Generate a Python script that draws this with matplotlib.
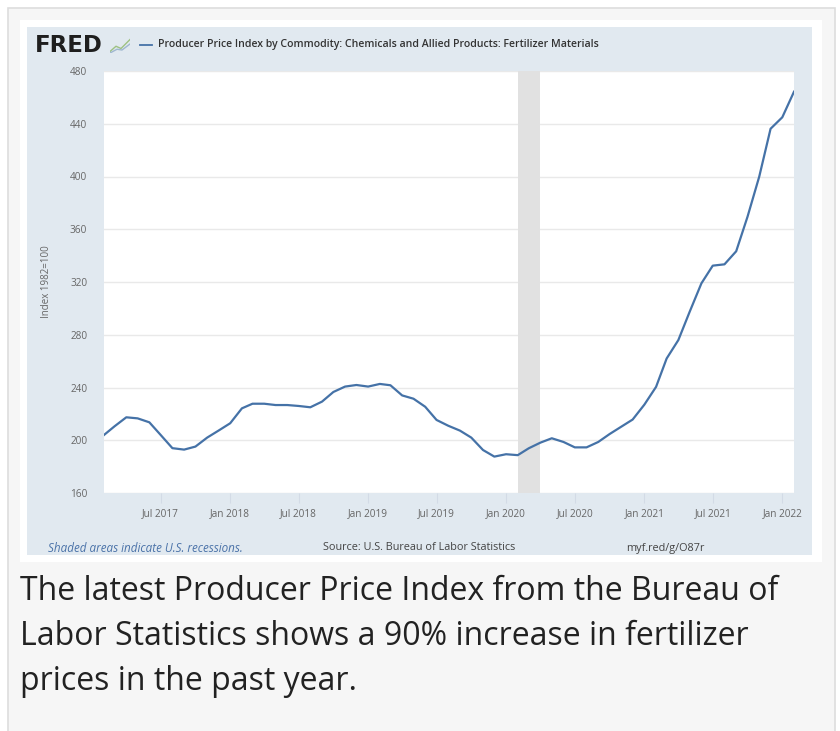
import datetime as dt
import matplotlib
matplotlib.use("Agg")
import matplotlib.pyplot as plt
import matplotlib.dates as mdates
from matplotlib.patches import Rectangle
from matplotlib.lines import Line2D

# monthly PPI, fertilizer materials (index 1982=100), Feb 2017 .. Feb 2022
start_year, start_month = 2017, 2
ppi = [
    204.0, 210.6, 217.4, 216.6, 213.6, 204.0, 194.0, 192.9, 195.2, 202.0, 207.3,
    212.9, 224.2, 227.7, 227.7, 226.7, 226.7, 226.0, 225.0, 229.3, 236.6, 240.7, 241.9,
    240.7, 242.7, 241.7, 234.0, 231.5, 225.4, 215.4, 211.0, 207.3, 202.0, 192.6, 187.6,
    189.4, 188.7, 193.9, 198.2, 201.5, 198.7, 194.6, 194.6, 198.7, 204.7, 210.3, 215.7,
    227.0, 240.5, 262.0, 276.0, 297.5, 319.0, 332.4, 333.4, 343.3, 369.5, 399.9, 436.2,
    444.9, 464.3,
]
recession = ("2020-02-01", "2020-04-01")
y_ticks = [160, 200, 240, 280, 320, 360, 400, 440, 480]
x_ticks = ["2017-07", "2018-01", "2018-07", "2019-01", "2019-07", "2020-01",
           "2020-07", "2021-01", "2021-07", "2022-01"]

title = "Producer Price Index by Commodity: Chemicals and Allied Products: Fertilizer Materials"
caption = ["The latest Producer Price Index from the Bureau of",
           "Labor Statistics shows a 90% increase in fertilizer",
           "prices in the past year."]

W, H = 840, 731
LINE = "#4572a7"
PANEL = "#e1e9f0"
FONT = ["Open Sans", "DejaVu Sans"]


def month_dates(n):
    out = []
    y, m = start_year, start_month
    for _ in range(n):
        out.append(dt.datetime(y, m, 1))
        m += 1
        if m > 12:
            y, m = y + 1, 1
    return out


def box(x0, y0, x1, y1, z, **kw):
    # pixel coords measured from top-left
    return Rectangle((x0 / W, 1 - y1 / H), (x1 - x0) / W, (y1 - y0) / H,
                     transform=fig.transFigure, zorder=z, **kw)


def txt(x, y, s, **kw):
    kw.setdefault("family", FONT)
    fig.text(x / W, 1 - y / H, s, **kw)


fig = plt.figure(figsize=(W / 100, H / 100), dpi=100, facecolor="white")
fig.patches.append(box(7.5, 7.5, 835, 740, -3, facecolor="#f6f6f6", edgecolor="#dddddd", lw=1.2))
fig.patches.append(box(20, 20, 822, 562, -2, facecolor="white", edgecolor="none"))
fig.patches.append(box(27, 27, 812, 555, -1, facecolor=PANEL, edgecolor="none"))

ax = fig.add_axes([104 / W, 1 - 493 / H, (794 - 104) / W, (493 - 71) / H])
ax.set_facecolor("white")

dates = month_dates(len(ppi))
ax.axvspan(dt.datetime.fromisoformat(recession[0]), dt.datetime.fromisoformat(recession[1]),
           color="#e1e1e1", lw=0, zorder=1)
ax.plot(dates, ppi, color=LINE, lw=1.6, zorder=3)

ax.set_xlim(dates[0], dates[-1])
ax.set_ylim(160, 480)
ax.set_yticks(y_ticks)
ax.set_yticklabels([str(v) for v in y_ticks])
xt = [dt.datetime.strptime(s, "%Y-%m") for s in x_ticks]
ax.set_xticks(xt)
ax.xaxis.set_major_formatter(mdates.DateFormatter("%b %Y"))
ax.grid(axis="y", color="#e9e9e9", lw=1, zorder=0)
ax.set_axisbelow(True)
for sp in ax.spines.values():
    sp.set_visible(False)
ax.tick_params(axis="y", length=0, pad=12, labelsize=7.2, labelcolor="#666666")
ax.tick_params(axis="x", length=7, width=0.8, color="#d3dbe6", pad=4,
               labelsize=7.2, labelcolor="#666666")
for lab in ax.get_xticklabels() + ax.get_yticklabels():
    lab.set_family(FONT)
ax.set_ylabel("Index 1982=100", family=FONT, fontsize=7, color="#666666", labelpad=13)

# header: FRED logo, tiny icon, legend entry
txt(35, 45, "FRED", family=["DejaVu Sans"], weight="heavy",
    fontsize=16.5, color="#1e1e1e", va="center")
icon = fig.add_axes([110 / W, 1 - 53 / H, 20 / W, 15 / H])
icon.set_axis_off()
icon.plot([0, 0.3, 0.55, 1], [0.1, 0.45, 0.3, 0.9], color="#9dc183", lw=1)
icon.plot([0, 0.35, 0.6, 1], [0.0, 0.25, 0.2, 0.6], color="#9fb7d0", lw=1)
icon.set_xlim(0, 1)
icon.set_ylim(0, 1)
fig.add_artist(Line2D([140 / W, 152 / W], [1 - 45 / H, 1 - 45 / H], color=LINE, lw=1.3))
txt(158, 45, title, fontsize=7.6, weight="semibold", color="#333333", va="center")

# footer
txt(48, 548, "Shaded areas indicate U.S. recessions.", fontsize=8.4, style="italic",
    color="#4a72a8", va="center")
txt(323, 548, "Source: U.S. Bureau of Labor Statistics", fontsize=7.8, color="#444444", va="center")
txt(626, 548, "myf.red/g/O87r", fontsize=7.8, color="#444444", va="center")

# caption
for i, line in enumerate(caption):
    txt(20, 600 + 45 * i, line, fontsize=23, color="#222222", va="baseline")

fig.savefig("out.png", dpi=100, facecolor=fig.get_facecolor())
